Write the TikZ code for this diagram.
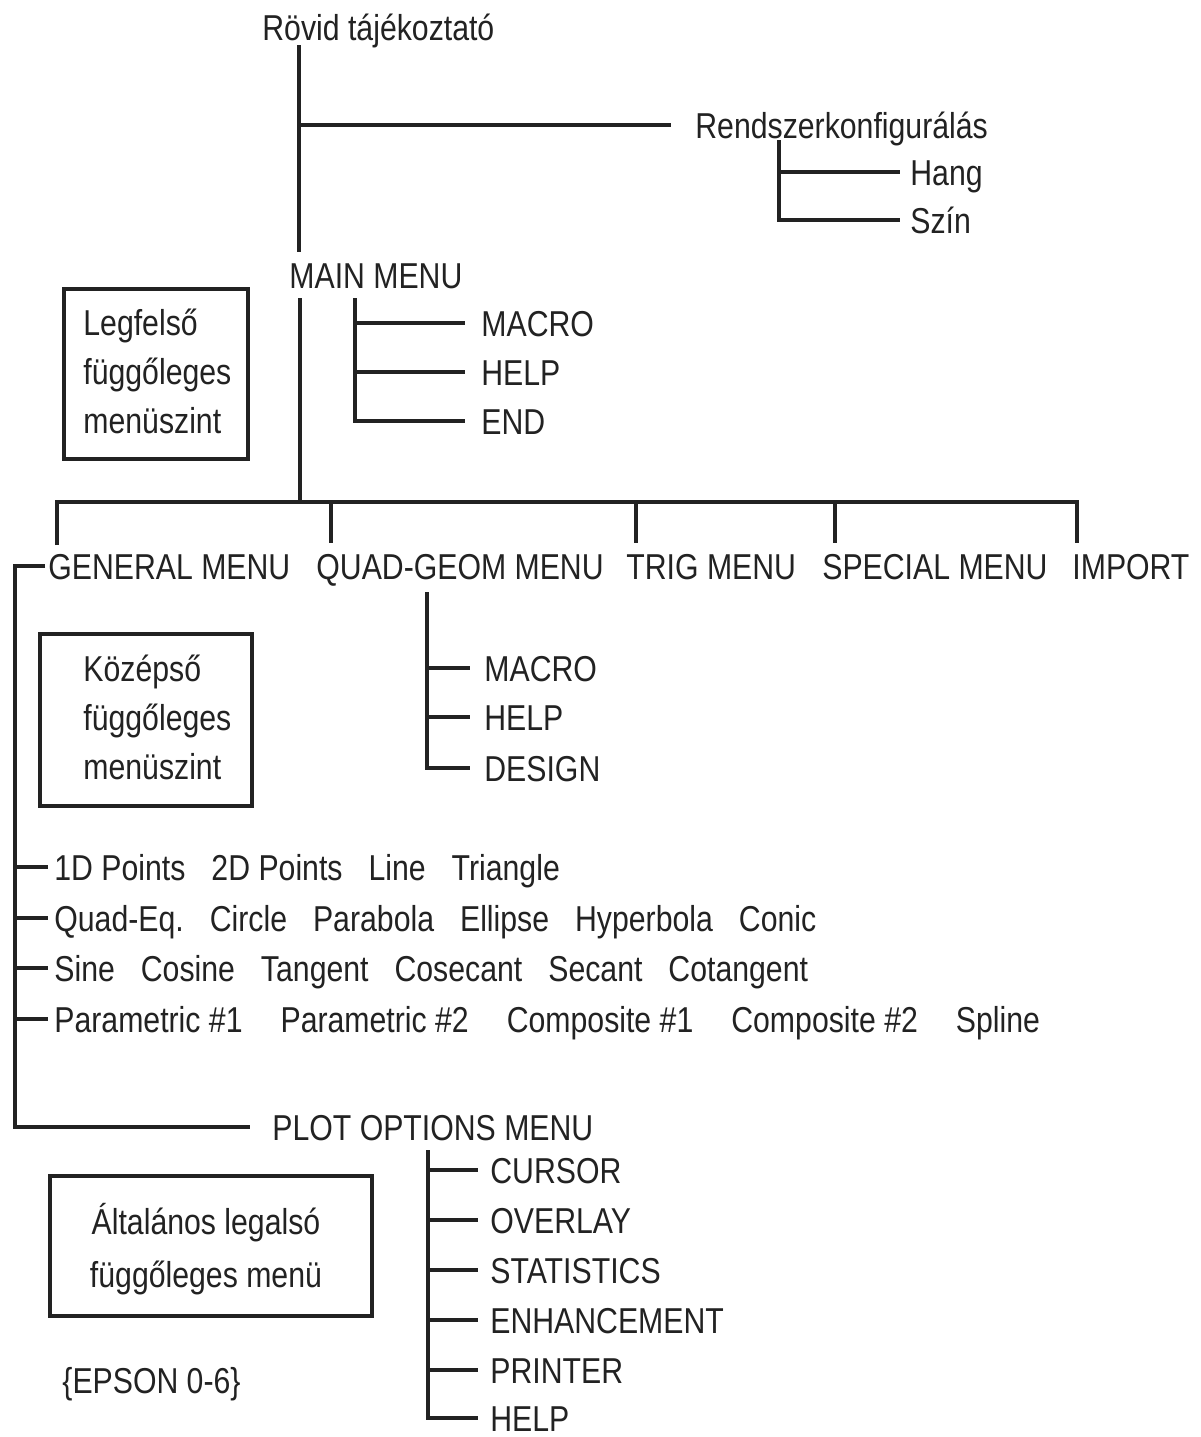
\documentclass[tikz,border=0pt]{standalone}
\usepackage{fontspec}
\setmainfont[FakeStretch=0.84]{Liberation Sans}
\usetikzlibrary{positioning,calc}
\definecolor{inkgray}{HTML}{222222}
\tikzset{
  link/.style={draw=inkgray, line width=1.7pt},
  item/.style={anchor=west, inner sep=0pt, text height=13pt, text depth=0pt,
    text=inkgray, font=\fontsize{18}{24}\selectfont},
  levelbox/.style={draw=inkgray, line width=1.7pt, inner sep=0pt},
  boxtext/.style={align=left, inner sep=0pt, text=inkgray,
    font=\fontsize{18}{24.5}\selectfont}
}
\newcommand{\gap}{\hspace{13pt}}
\newcommand{\widegap}{\hspace{19pt}}

\begin{document}
\begin{tikzpicture}[x=0.5pt, y=-0.5pt]
\useasboundingbox[fill=white] (0,0) rectangle (1201,1437);

% top of the tree
\node[item] (rovid) at (262,27) {Rövid tájékoztató};
\node[item] (rendszer) at (695,125) {Rendszerkonfigurálás};
\node[item] (hang) at (910,172) {Hang};
\node[item] (szin) at (910,220) {Szín};
\node[item] (main) at (289,275) {MAIN MENU};
\node[item] (mmacro) at (481,323) {MACRO};
\node[item] (mhelp) at (481,372) {HELP};
\node[item] (mend) at (481,421) {END};

% second level
\node[item] (gen) at (48,566) {GENERAL MENU};
\node[item] (quad) at (316,566) {QUAD-GEOM MENU};
\node[item] (trig) at (626,566) {TRIG MENU};
\node[item] (spec) at (822,566) {SPECIAL MENU};
\node[item] (imp) at (1072,566) {IMPORT};
\node[item] (qmacro) at (484,668) {MACRO};
\node[item] (qhelp) at (484,717) {HELP};
\node[item] (qdesign) at (484,768) {DESIGN};

% general menu rows
\node[item] (row1) at (54,867) {1D Points\gap 2D Points\gap Line\gap Triangle};
\node[item] (row2) at (54,918) {Quad-Eq.\gap Circle\gap Parabola\gap Ellipse\gap Hyperbola\gap Conic};
\node[item] (row3) at (54,968) {Sine\gap Cosine\gap Tangent\gap Cosecant\gap Secant\gap Cotangent};
\node[item] (row4) at (54,1019) {Parametric \#1\widegap Parametric \#2\widegap Composite \#1\widegap Composite \#2\widegap Spline};

% plot options
\node[item] (plot) at (272,1127) {PLOT OPTIONS MENU};
\node[item] (pcursor) at (490,1170) {CURSOR};
\node[item] (poverlay) at (490,1220) {OVERLAY};
\node[item] (pstat) at (490,1270) {STATISTICS};
\node[item] (penh) at (490,1320) {ENHANCEMENT};
\node[item] (pprint) at (490,1370) {PRINTER};
\node[item] (phelp) at (490,1418) {HELP};
\node[item] (epson) at (62,1380) {\{EPSON 0-6\}};

% level boxes
\node[levelbox, minimum width=92pt, minimum height=85pt] (topbox) at (156,374) {};
\node[boxtext, anchor=west] (toptext) at (83,371) {Legfelső\\függőleges\\menüszint};
\node[levelbox, minimum width=106pt, minimum height=86pt] (midbox) at (146,720) {};
\node[boxtext, anchor=west] (midtext) at (83,717) {Középső\\függőleges\\menüszint};
\node[levelbox, minimum width=161pt, minimum height=70pt] (lowbox) at (211,1246) {};
\node[boxtext, align=center, font=\fontsize{18}{26.5}\selectfont] (lowtext) at (206,1249) {Általános legalsó\\függőleges menü};

% trunk points
\coordinate (rovidfoot) at (299,45);
\coordinate (rendfoot) at (779,140);
\coordinate (mainfoot) at (300,298);
\coordinate (mmsub) at (355,298);
\coordinate (bar) at (300,502);
\coordinate (dgen) at (57,545);
\coordinate (dquad) at (331,543);
\coordinate (dtrig) at (636,543);
\coordinate (dspec) at (835,543);
\coordinate (dimp) at (1077,543);
\coordinate (rail) at (15,900);
\coordinate (quadfoot) at (427,592);
\coordinate (plotfoot) at (428,1150);

% upper connectors
\draw[link, shorten >=5pt] (rovidfoot) -- (rovidfoot |- main.north);
\draw[link, shorten >=12pt] (rovidfoot |- rendszer.west) -- (rendszer.west);
\draw[link, shorten >=5pt] (rendfoot) |- (hang.west);
\draw[link, shorten >=5pt] (rendfoot) |- (szin.west);
\draw[link] (mainfoot) -- (bar);
\draw[link, shorten >=8pt] (mmsub) |- (mmacro.west);
\draw[link, shorten >=8pt] (mmsub) |- (mhelp.west);
\draw[link, shorten >=8pt] (mmsub) |- (mend.west);

% second level bar
\draw[link] (dgen) |- (bar) -| (dimp);
\draw[link] (dquad |- bar) -- (dquad);
\draw[link] (dtrig |- bar) -- (dtrig);
\draw[link] (dspec |- bar) -- (dspec);

\draw[link, shorten >=7pt] (quadfoot) |- (qmacro.west);
\draw[link, shorten >=7pt] (quadfoot) |- (qhelp.west);
\draw[link, shorten >=7pt] (quadfoot) |- (qdesign.west);

% general menu rail
\draw[link, shorten <=1.5pt, shorten >=11pt] (gen.west) -| (rail) |- (plot.west);
\draw[link, shorten >=3pt] (rail |- row1.west) -- (row1.west);
\draw[link, shorten >=3pt] (rail |- row2.west) -- (row2.west);
\draw[link, shorten >=3pt] (rail |- row3.west) -- (row3.west);
\draw[link, shorten >=3pt] (rail |- row4.west) -- (row4.west);

% plot options children
\draw[link, shorten >=6pt] (plotfoot) |- (pcursor.west);
\draw[link, shorten >=6pt] (plotfoot) |- (poverlay.west);
\draw[link, shorten >=6pt] (plotfoot) |- (pstat.west);
\draw[link, shorten >=6pt] (plotfoot) |- (penh.west);
\draw[link, shorten >=6pt] (plotfoot) |- (pprint.west);
\draw[link, shorten >=6pt] (plotfoot) |- (phelp.west);

\end{tikzpicture}
\end{document}
